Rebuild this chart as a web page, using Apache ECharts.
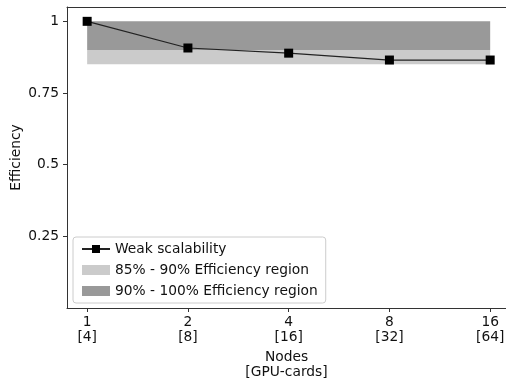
<!DOCTYPE html>
<html>
<head>
<meta charset="utf-8">
<script src="https://cdn.jsdelivr.net/npm/echarts@6/dist/echarts.min.js"></script>
<style>
  html, body { margin: 0; padding: 0; background: #fff; }
  #chart { width: 506px; height: 378px; }
</style>
</head>
<body>
<div id="chart"></div>
<script>
var nodes = [1, 2, 4, 8, 16];
var gpuCards = [4, 8, 16, 32, 64];
var efficiency = [1.0, 0.907, 0.889, 0.865, 0.865];
var yTicks = [0.25, 0.5, 0.75, 1];

// efficiency bands: [low, high]
var band85 = [0.85, 0.9];
var band90 = [0.9, 1.0];

var font = 'DejaVu Sans';
var fs = 13.8;
var xPos = nodes.map(function (n) { return Math.log2(n); });

function bandSeries(name, band, color) {
  return {
    name: name,
    type: 'custom',
    z: 1,
    itemStyle: { color: color },
    data: [[xPos[0], xPos[xPos.length - 1], band[0], band[1]]],
    renderItem: function (params, api) {
      var p0 = api.coord([api.value(0), api.value(3)]);
      var p1 = api.coord([api.value(1), api.value(2)]);
      return {
        type: 'rect',
        shape: { x: p0[0], y: p0[1], width: p1[0] - p0[0], height: p1[1] - p0[1] },
        style: { fill: color }
      };
    }
  };
}

var chart = echarts.init(document.getElementById('chart'));

// plot box runs past the right edge of the picture, like the original
chart.setOption({
  animation: false,
  textStyle: { fontFamily: font },
  grid: { left: 67, right: 0, top: 7, bottom: 70, outerBoundsMode: 'none', containLabel: false },
  legend: {
    orient: 'vertical',
    left: 73, top: 237,
    itemWidth: 28, itemHeight: 10, itemGap: 7,
    padding: [5, 8, 5, 8],
    backgroundColor: 'rgba(255,255,255,0.8)',
    borderColor: '#ccc', borderWidth: 1, borderRadius: 3,
    textStyle: { fontFamily: font, fontSize: fs, color: '#111' },
    data: [
      { name: 'Weak scalability' },
      { name: '85% - 90% Efficiency region', icon: 'rect' },
      { name: '90% - 100% Efficiency region', icon: 'rect' }
    ]
  },
  xAxis: [{
    type: 'value',
    min: -0.2, max: 4.157,
    name: 'Nodes\n[GPU-cards]',
    nameLocation: 'middle',
    nameGap: 40,
    nameTextStyle: { fontFamily: font, fontSize: fs, color: '#111', lineHeight: 15 },
    axisLine: { show: true, onZero: false, lineStyle: { color: '#333' } },
    axisTick: { show: true, length: 4, lineStyle: { color: '#333' }, customValues: xPos },
    splitLine: { show: false },
    axisLabel: {
      customValues: xPos,
      fontFamily: font, fontSize: fs, color: '#111', lineHeight: 15, margin: 7,
      formatter: function (v) {
        var i = xPos.indexOf(v);
        return i < 0 ? '' : nodes[i] + '\n[' + gpuCards[i] + ']';
      }
    }
  }, {
    type: 'value',
    position: 'top',
    min: -0.2, max: 4.157,
    axisLine: { show: true, onZero: false, lineStyle: { color: '#333' } },
    axisTick: { show: false },
    axisLabel: { show: false },
    splitLine: { show: false }
  }],
  yAxis: {
    type: 'value',
    min: 0, max: 1.05,
    name: 'Efficiency',
    nameLocation: 'middle',
    nameRotate: 90,
    nameGap: 44,
    nameMoveOverlap: false,
    nameTextStyle: { fontFamily: font, fontSize: fs, color: '#111' },
    axisLine: { show: true, onZero: false, lineStyle: { color: '#333' } },
    axisTick: { show: true, length: 4, lineStyle: { color: '#333' }, customValues: yTicks },
    splitLine: { show: false },
    axisLabel: {
      customValues: yTicks,
      fontFamily: font, fontSize: fs, color: '#111', margin: 8,
      formatter: function (v) { return String(v); }
    }
  },
  series: [
    bandSeries('85% - 90% Efficiency region', band85, '#cbcbcb'),
    bandSeries('90% - 100% Efficiency region', band90, '#999999'),
    {
      name: 'Weak scalability',
      type: 'line',
      z: 5,
      data: xPos.map(function (x, i) { return [x, efficiency[i]]; }),
      symbol: 'rect',
      symbolSize: 9,
      itemStyle: { color: '#000' },
      lineStyle: { color: '#222', width: 1.2 }
    }
  ]
});
</script>
</body>
</html>
